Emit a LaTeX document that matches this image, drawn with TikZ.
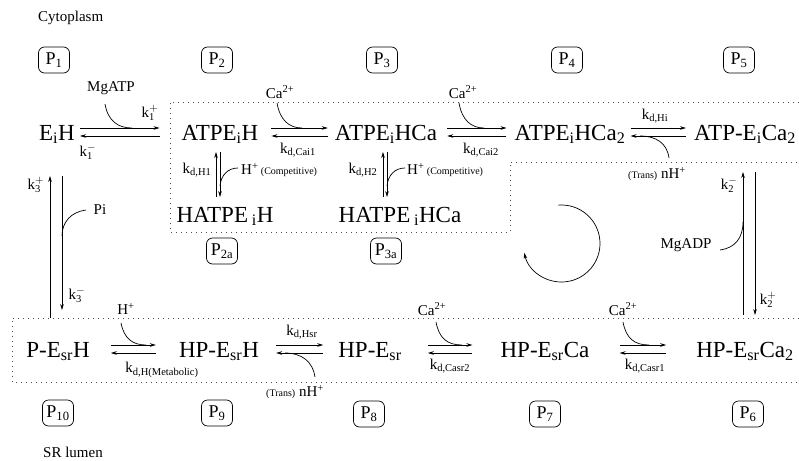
\documentclass[tikz,border=0pt]{standalone}
\usepackage{fontspec}
\setmainfont{Liberation Serif}
\usetikzlibrary{arrows.meta,calc}
\newcommand\lo[1]{\textsubscript{#1}}
\newcommand\supx[1]{\textsuperscript{#1}}
\newcommand\kk[2]{$\mathrm{k}^{#2}_{\mathrm{#1}}$}
\newcommand\smalltxt{\fontsize{10}{12}\selectfont}
\newcommand\pairarrow[6]{%
  \draw[rx] ($(#1.east|-#5)+(#3,0)$) -- ($(#2.west|-#5)+(-#4,0)$);
  \draw[rx] ($(#2.west|-#6)+(-#4,0)$) -- ($(#1.east|-#6)+(#3,0)$);}
\begin{document}
\begin{tikzpicture}[x=1pt,y=-1pt,
  state/.style={font=\fontsize{23}{26}\selectfont, inner sep=0pt, anchor=base},
  lab/.style={font=\fontsize{15}{18}\selectfont, inner sep=0pt},
  pbox/.style={draw, rounded corners=6pt, minimum width=31pt, minimum height=26pt, inner sep=0pt, font=\fontsize{18}{21}\selectfont, line width=0.7pt},
  rx/.style={line width=0.7pt, -{Stealth[length=6pt,width=3.6pt]}},
  thin/.style={line width=0.7pt},
  dotline/.style={line width=0.8pt, dash pattern=on 0.8pt off 4.2pt, black!70}]
\useasboundingbox (0,0) rectangle (799,460);

% region labels
\node[lab, anchor=west] (cyto) at (38,18) {Cytoplasm};
\node[lab, anchor=west] (srl) at (43,452) {SR lumen};

% dotted regions
\draw[dotline] (799,102) -- (170,102) -- (170,232) -- (510,232) -- (510,162) -- (799,162);
\draw[dotline] (799,318) -- (12,318) -- (12,382) -- (799,382);

% P boxes
\node[pbox] (p1) at (54,60) {P\lo{1}};
\node[pbox] (p2) at (217,60) {P\lo{2}};
\node[pbox] (p3) at (382,60) {P\lo{3}};
\node[pbox] (p4) at (567,60) {P\lo{4}};
\node[pbox] (p5) at (739,60) {P\lo{5}};
\node[pbox] (p2a) at (222,251) {P\lo{2a}};
\node[pbox] (p3a) at (386,251) {P\lo{3a}};
\node[pbox] (p10) at (58,413) {P\lo{10}};
\node[pbox] (p9) at (217,413) {P\lo{9}};
\node[pbox] (p8) at (369,414) {P\lo{8}};
\node[pbox] (p7) at (545,414) {P\lo{7}};
\node[pbox] (p6) at (748,414) {P\lo{6}};

% states
\node[state] (eih) at (57,140) {E\lo{i}H};
\node[state] (atp1) at (220,140) {ATPE\lo{i}H};
\node[state] (atp2) at (386,140) {ATPE\lo{i}HCa};
\node[state] (atp3) at (570,140) {ATPE\lo{i}HCa\lo{2}};
\node[state] (atp4) at (745,140) {ATP-E\lo{i}Ca\lo{2}};
\node[state] (hatp1) at (225,222) {HATPE\,\lo{i}H};
\node[state] (hatp2) at (400,222) {HATPE\,\lo{i}HCa};
\node[state] (pe) at (58,357) {P-E\lo{sr}H};
\node[state] (hpeh) at (219,357) {HP-E\lo{sr}H};
\node[state] (hpe) at (370,357) {HP-E\lo{sr}};
\node[state] (hpeca) at (545,357) {HP-E\lo{sr}Ca};
\node[state] (hpeca2) at (745,357) {HP-E\lo{sr}Ca\lo{2}};

% arrow rows
\coordinate (ya) at (0,128);
\coordinate (yb) at (0,136);
\coordinate (yc) at (0,345);
\coordinate (yd) at (0,353);
\pairarrow{eih}{atp1}{5}{22}{ya}{yb}
\pairarrow{atp1}{atp2}{13}{7}{ya}{yb}
\pairarrow{atp2}{atp3}{10}{8}{ya}{yb}
\pairarrow{atp3}{atp4}{5}{8}{ya}{yb}
\pairarrow{pe}{hpeh}{21}{23}{yc}{yd}
\pairarrow{hpeh}{hpe}{17}{15}{yc}{yd}
\pairarrow{hpe}{hpeca}{26}{28}{yc}{yd}
\pairarrow{hpeca}{hpeca2}{30}{30}{yc}{yd}

% vertical arrows
\draw[rx] (50,318) -- (50,176);
\draw[rx] (62,176) -- (62,310);
\draw[rx] (216,197) -- (216,152);
\draw[rx] (220,152) -- (220,197);
\draw[rx] (383,197) -- (383,152);
\draw[rx] (387,152) -- (387,197);
\draw[rx] (743,315) -- (743,172);
\draw[rx] (755,172) -- (755,315);

% rate labels
\node[lab] (k1p) at (150,113) {\kk{1}{+}};
\node[lab] (k1m) at (88,152) {\kk{1}{-}};
\node[lab] (k3p) at (36,185) {\kk{3}{+}};
\node[lab] (k3m) at (77,295) {\kk{3}{-}};
\node[lab] (k2m) at (729,185) {\kk{2}{-}};
\node[lab] (k2p) at (768,300) {\kk{2}{+}};
\node[lab] (kc1) at (298,150) {k\lo{d,Cai1}};
\node[lab] (kc2) at (481,150) {k\lo{d,Cai2}};
\node[lab] (khi) at (655,116) {k\lo{d,Hi}};
\node[lab] (kh1) at (197,170) {k\lo{d,H1}};
\node[lab] (kh2) at (363,170) {k\lo{d,H2}};
\node[lab] (khm) at (162,370) {k\lo{d,H(Metabolic)}};
\node[lab] (khsr) at (302,332) {k\lo{d,Hsr}};
\node[lab] (kcs2) at (450,366) {k\lo{d,Casr2}};
\node[lab] (kcs1) at (645,366) {k\lo{d,Casr1}};

% ligand labels
\node[lab] (mgatp) at (111,88) {MgATP};
\node[lab] (ca1) at (280,92) {Ca\supx{2+}};
\node[lab] (ca2) at (463,92) {Ca\supx{2+}};
\node[lab, anchor=west] (hc1) at (241,170) {H\supx{+}\,{\smalltxt(Competitive)}};
\node[lab, anchor=west] (hc2) at (407,170) {H\supx{+}\,{\smalltxt(Competitive)}};
\node[lab] (nh1) at (657,174) {{\smalltxt(Trans)} nH\supx{+}};
\node[lab] (pi) at (100,210) {Pi};
\node[lab] (mgadp) at (686,245) {MgADP};
\node[lab] (hb) at (126,309) {H\supx{+}};
\node[lab] (nh2) at (295,392) {{\smalltxt(Trans)} nH\supx{+}};
\node[lab] (ca3) at (432,309) {Ca\supx{2+}};
\node[lab] (ca4) at (623,309) {Ca\supx{2+}};

% ligand curves
\draw[thin] (105,104) .. controls (108,121) and (118,128) .. (132,128);
\draw[thin] (277,103) .. controls (280,120) and (289,128) .. (302,128);
\draw[thin] (459,103) .. controls (462,120) and (471,128) .. (484,128);
\draw[thin] (669,158) .. controls (667,143) and (656,136) .. (640,136);
\draw[thin] (238,168) .. controls (228,168) and (221,175) .. (220,186);
\draw[thin] (405,168) .. controls (395,168) and (388,175) .. (387,186);
\draw[thin] (86,210) .. controls (71,212) and (62,222) .. (62,236);
\draw[thin] (720,250) .. controls (735,248) and (743,238) .. (743,222);
\draw[thin] (121,323) .. controls (124,338) and (132,345) .. (146,345);
\draw[thin] (315,377) .. controls (313,362) and (302,353) .. (285,353);
\draw[thin] (436,322) .. controls (439,338) and (447,345) .. (462,345);
\draw[thin] (623,322) .. controls (626,338) and (634,345) .. (649,345);

% cycle arrow
\coordinate (cc) at (561.5,243.5);
\draw[rx] ([shift={(95:38.5pt)}]cc) arc[start angle=95, end angle=-166, radius=38.5pt];
\end{tikzpicture}
\end{document}
